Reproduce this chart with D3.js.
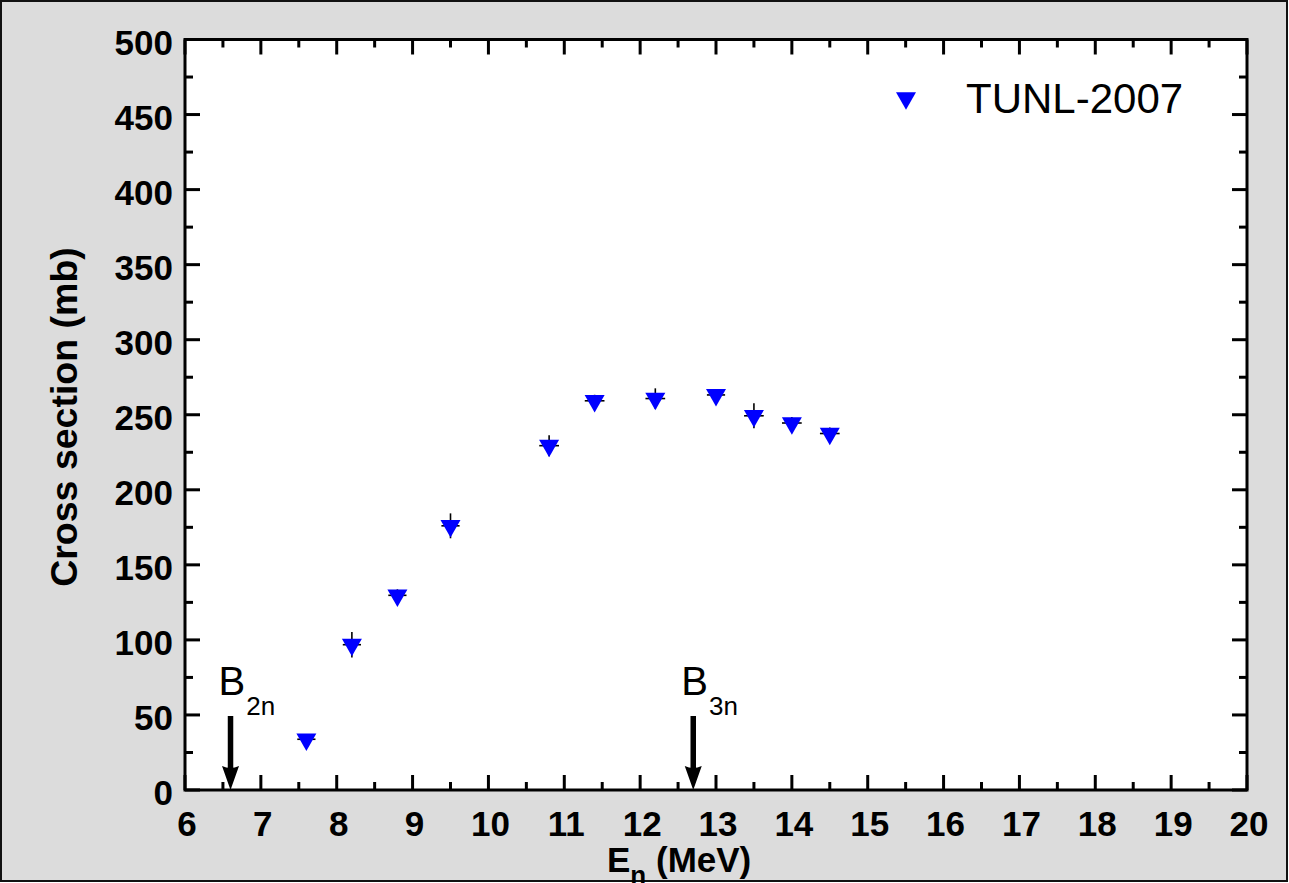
<!DOCTYPE html>
<html>
<head>
<meta charset="utf-8">
<script src="https://cdn.jsdelivr.net/npm/d3@7"></script>
<style>
  html, body { margin: 0; padding: 0; background: #fff; }
  svg { display: block; }
  text { font-family: "Liberation Sans", Arial, sans-serif; }
</style>
</head>
<body>
<svg id="chart" width="1289" height="883"></svg>
<script>
// ---- data ----
const energies = [7.6, 8.2, 8.8, 9.5, 10.8, 11.4, 12.2, 13.0, 13.5, 14.0, 14.5];
const crossSections = [33.8, 96.8, 129.7, 176, 229.4, 259.3, 260.8, 263.2, 249.3, 244.5, 237.5];
const yErrors = [3, 8.5, 4, 8.3, 7, 4, 6.8, 4, 8.3, 4, 4];
const xErrors = [0.12, 0.12, 0.12, 0.12, 0.13, 0.13, 0.13, 0.12, 0.13, 0.13, 0.13];
const seriesName = "TUNL-2007";
const xTicks = [6, 7, 8, 9, 10, 11, 12, 13, 14, 15, 16, 17, 18, 19, 20];
const yTicks = [0, 50, 100, 150, 200, 250, 300, 350, 400, 450, 500];
const thresholds = [{ label: "B", sub: "2n", e: 6.6 }, { label: "B", sub: "3n", e: 12.7 }];

// ---- layout ----
const W = 1289, H = 883;
const L = 185, R = 1247, T = 39.5, B = 790;
const svg = d3.select("#chart");

svg.append("rect").attr("x", 1).attr("y", 1).attr("width", W - 3).attr("height", H - 3)
  .attr("fill", "#dcdcdc").attr("stroke", "#111").attr("stroke-width", 2);

const x = d3.scaleLinear().domain([6, 20]).range([L, R]);
const y = d3.scaleLinear().domain([0, 500]).range([B, T]);

svg.append("rect").attr("x", L).attr("y", T).attr("width", R - L).attr("height", B - T).attr("fill", "#fff");

// ticks (inward) on all sides
const xMinor = d3.range(6.5, 20, 1);
const yMinor = d3.range(25, 500, 50);
const tg = svg.append("g").attr("stroke", "#000").attr("stroke-width", 3);
const maj = 15, mnr = 8;
xTicks.forEach(v => {
  tg.append("line").attr("x1", x(v)).attr("x2", x(v)).attr("y1", B).attr("y2", B - maj);
  tg.append("line").attr("x1", x(v)).attr("x2", x(v)).attr("y1", T).attr("y2", T + maj);
});
xMinor.forEach(v => {
  tg.append("line").attr("x1", x(v)).attr("x2", x(v)).attr("y1", B).attr("y2", B - mnr);
  tg.append("line").attr("x1", x(v)).attr("x2", x(v)).attr("y1", T).attr("y2", T + mnr);
});
yTicks.forEach(v => {
  tg.append("line").attr("y1", y(v)).attr("y2", y(v)).attr("x1", L).attr("x2", L + maj);
  tg.append("line").attr("y1", y(v)).attr("y2", y(v)).attr("x1", R).attr("x2", R - maj);
});
yMinor.forEach(v => {
  tg.append("line").attr("y1", y(v)).attr("y2", y(v)).attr("x1", L).attr("x2", L + mnr);
  tg.append("line").attr("y1", y(v)).attr("y2", y(v)).attr("x1", R).attr("x2", R - mnr);
});

// frame
svg.append("rect").attr("x", L).attr("y", T).attr("width", R - L).attr("height", B - T)
  .attr("fill", "none").attr("stroke", "#000").attr("stroke-width", 3);

// tick labels
svg.append("g").selectAll("text").data(xTicks).join("text")
  .attr("x", d => x(d) + 2).attr("y", 836).attr("text-anchor", "middle")
  .attr("font-size", 35).attr("font-weight", "bold").text(d => d);
svg.append("g").selectAll("text").data(yTicks).join("text")
  .attr("x", 173).attr("y", d => y(d) + 15).attr("text-anchor", "end")
  .attr("font-size", 35).attr("font-weight", "bold").text(d => d);

// axis titles
const xt = svg.append("text").attr("x", 607).attr("y", 872)
  .attr("font-size", 35).attr("font-weight", "bold");
xt.append("tspan").text("E");
xt.append("tspan").attr("dy", 12).attr("font-size", 26).text("n");
xt.append("tspan").attr("dy", -12).text(" (MeV)");

svg.append("text").attr("transform", "translate(77,417) rotate(-90)")
  .attr("text-anchor", "middle").attr("font-size", 37.5).attr("font-weight", "bold")
  .text("Cross section (mb)");

// data
const data = energies.map((e, i) => ({ e, v: crossSections[i], ey: yErrors[i], ex: xErrors[i] }));
const eg = svg.append("g").attr("stroke", "#000").attr("stroke-width", 1.6);
data.forEach(d => {
  eg.append("line").attr("x1", x(d.e)).attr("x2", x(d.e)).attr("y1", y(d.v - d.ey)).attr("y2", y(d.v + d.ey));
  eg.append("line").attr("x1", x(d.e - d.ex)).attr("x2", x(d.e + d.ex)).attr("y1", y(d.v)).attr("y2", y(d.v));
});
const th = 17.5, tw = 20;
const tri = `M${-tw/2},${-th/3}L${tw/2},${-th/3}L0,${2*th/3}Z`;
svg.append("g").selectAll("path").data(data).join("path")
  .attr("d", tri).attr("fill", "#0000ff")
  .attr("transform", d => `translate(${x(d.e)},${y(d.v)})`);

// legend
svg.append("path").attr("d", tri).attr("fill", "#0000ff").attr("transform", "translate(906,98)");
svg.append("text").attr("x", 966).attr("y", 112.7).attr("font-size", 42).text(seriesName);

// threshold arrows
thresholds.forEach(t => {
  const ax = x(t.e);
  svg.append("line").attr("x1", ax).attr("x2", ax).attr("y1", 716).attr("y2", 772)
    .attr("stroke", "#000").attr("stroke-width", 5.5);
  svg.append("path").attr("d", `M${ax - 8.5},766Q${ax},770 ${ax + 8.5},766L${ax},790Z`).attr("fill", "#000");
  const tx = svg.append("text").attr("x", ax - 12).attr("y", 695).attr("font-size", 40);
  tx.append("tspan").text(t.label);
  tx.append("tspan").attr("dy", 20).attr("dx", 1).attr("font-size", 26).text(t.sub);
});
</script>
</body>
</html>
